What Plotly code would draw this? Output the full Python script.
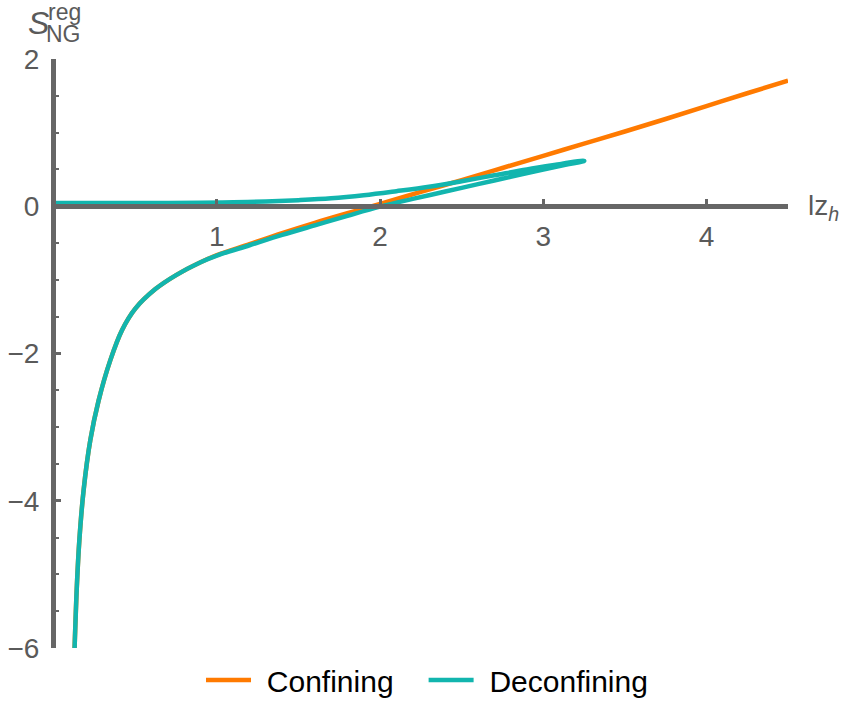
import plotly.graph_objects as go

# ---------------- data ----------------
conf_x = [0.128, 0.142, 0.157, 0.183, 0.224, 0.275, 0.347, 0.419, 0.5, 0.623, 0.75, 0.9, 1.0,
          1.2, 1.4, 1.6, 1.8, 2.0, 2.25, 2.5, 2.75, 3.0, 3.25, 3.5, 3.75, 4.0, 4.25, 4.5]
conf_y = [-6.0, -5.15, -4.54, -3.86, -3.18, -2.64, -2.09, -1.68, -1.39, -1.125, -0.935, -0.76, -0.665,
          -0.515, -0.365, -0.225, -0.095, 0.03, 0.195, 0.355, 0.52, 0.685, 0.85, 1.015, 1.185, 1.36, 1.535, 1.707]

deconf_lower_x = [0.128, 0.142, 0.157, 0.183, 0.224, 0.275, 0.347, 0.419, 0.5, 0.623, 0.75, 0.9, 1.0,
                  1.2, 1.4, 1.6, 1.8, 2.0, 2.2, 2.4, 2.6, 2.8, 3.0, 3.15, 3.25]
deconf_lower_y = [-6.0, -5.15, -4.54, -3.86, -3.18, -2.64, -2.09, -1.68, -1.39, -1.125, -0.935, -0.76, -0.67,
                  -0.53, -0.39, -0.26, -0.13, -0.005, 0.1, 0.2, 0.3, 0.4, 0.5, 0.57, 0.612]

deconf_upper_x = [0.014, 0.3, 0.6, 0.9, 1.1, 1.3, 1.5, 1.7, 1.9, 2.1, 2.3, 2.5, 2.7, 2.9, 3.1, 3.25]
deconf_upper_y = [0.045, 0.045, 0.045, 0.048, 0.055, 0.066, 0.083, 0.108, 0.15, 0.205, 0.265, 0.34, 0.42, 0.50, 0.57, 0.62]

x_ticks = [1, 2, 3, 4]
y_ticks = [-6, -4, -2, 0, 2]
x_range = [0.014, 4.5]
y_range = [-6, 2]

# single path for the deconfining branch: lower branch out to the cusp, upper branch back
deconf_x = deconf_lower_x + deconf_upper_x[::-1]
deconf_y = deconf_lower_y + deconf_upper_y[::-1]

ORANGE = "#FF7A00"
TEAL = "#12B5AE"
AXIS = "#666666"
LABEL = "#5a5a5a"
FONT = "Liberation Sans, Arial, Helvetica, sans-serif"
NB = "\u00a0"

# plot-area geometry in pixels
W_FIG, H_FIG = 844, 725
L, T, W, H = 56, 59, 732, 589


def px(x):
    return (x - L) / W


def py(y):
    return (T + H - y) / H


fig = go.Figure()
fig.add_trace(go.Scatter(x=conf_x, y=conf_y, mode="lines", name=NB + "\u200a" + "Confining" + NB + NB + NB,
                         line=dict(color=ORANGE, width=4.5, shape="spline", smoothing=1.0)))
fig.add_trace(go.Scatter(x=deconf_x, y=deconf_y, mode="lines", name=NB + "\u200a" + "Deconfining",
                         line=dict(color=TEAL, width=4.5, shape="spline", smoothing=1.0)))

fig.update_layout(
    width=W_FIG, height=H_FIG,
    margin=dict(l=L, r=W_FIG - L - W, t=T, b=H_FIG - T - H, pad=0),
    paper_bgcolor="white", plot_bgcolor="white",
    font=dict(family=FONT, size=28, color=LABEL),
    showlegend=True,
    legend=dict(orientation="h", x=px(427), xanchor="center", y=py(680), yanchor="middle",
                font=dict(family=FONT, size=30, color="#000000"), itemwidth=45,
                bgcolor="rgba(0,0,0,0)"),
    xaxis=dict(range=x_range, showgrid=False, zeroline=False, showline=True, automargin=False,
               linecolor=AXIS, linewidth=5, anchor="free",
               position=(0 - y_range[0]) / (y_range[1] - y_range[0]),
               tickmode="array", tickvals=x_ticks, ticktext=[str(v) for v in x_ticks],
               ticks="inside", ticklen=5, tickwidth=2.5, tickcolor=AXIS,
               tickfont=dict(family=FONT, size=28, color=LABEL), ticklabelstandoff=3),
    yaxis=dict(range=y_range, showgrid=False, zeroline=False, showline=True, automargin=False,
               linecolor=AXIS, linewidth=5,
               tickmode="array", tickvals=y_ticks,
               ticktext=[("\u2212" + str(-v)) if v < 0 else str(v) for v in y_ticks],
               ticks="inside", ticklen=5, tickwidth=2.5, tickcolor=AXIS,
               tickfont=dict(family=FONT, size=28, color=LABEL), ticklabelstandoff=6,
               minor=dict(tick0=0, dtick=0.5, ticks="inside", ticklen=3, tickwidth=2, tickcolor=AXIS)),
)

annos = [
    dict(text="<i>S</i>", x=px(38), y=py(23), size=32),
    dict(text="reg", x=px(64), y=py(12), size=23),
    dict(text="NG", x=px(63.5), y=py(34), size=23),
]
for a in annos:
    fig.add_annotation(xref="paper", yref="paper", showarrow=False, xanchor="center", yanchor="middle",
                       text=a["text"], x=a["x"], y=a["y"],
                       font=dict(family=FONT, color=LABEL, size=a["size"]))

fig.add_annotation(xref="paper", yref="paper", showarrow=False, xanchor="left", yanchor="middle",
                   text="lz<sub><i>h</i></sub>", x=px(806), y=py(208),
                   font=dict(family=FONT, color=LABEL, size=28))

fig.write_html("out.html")
